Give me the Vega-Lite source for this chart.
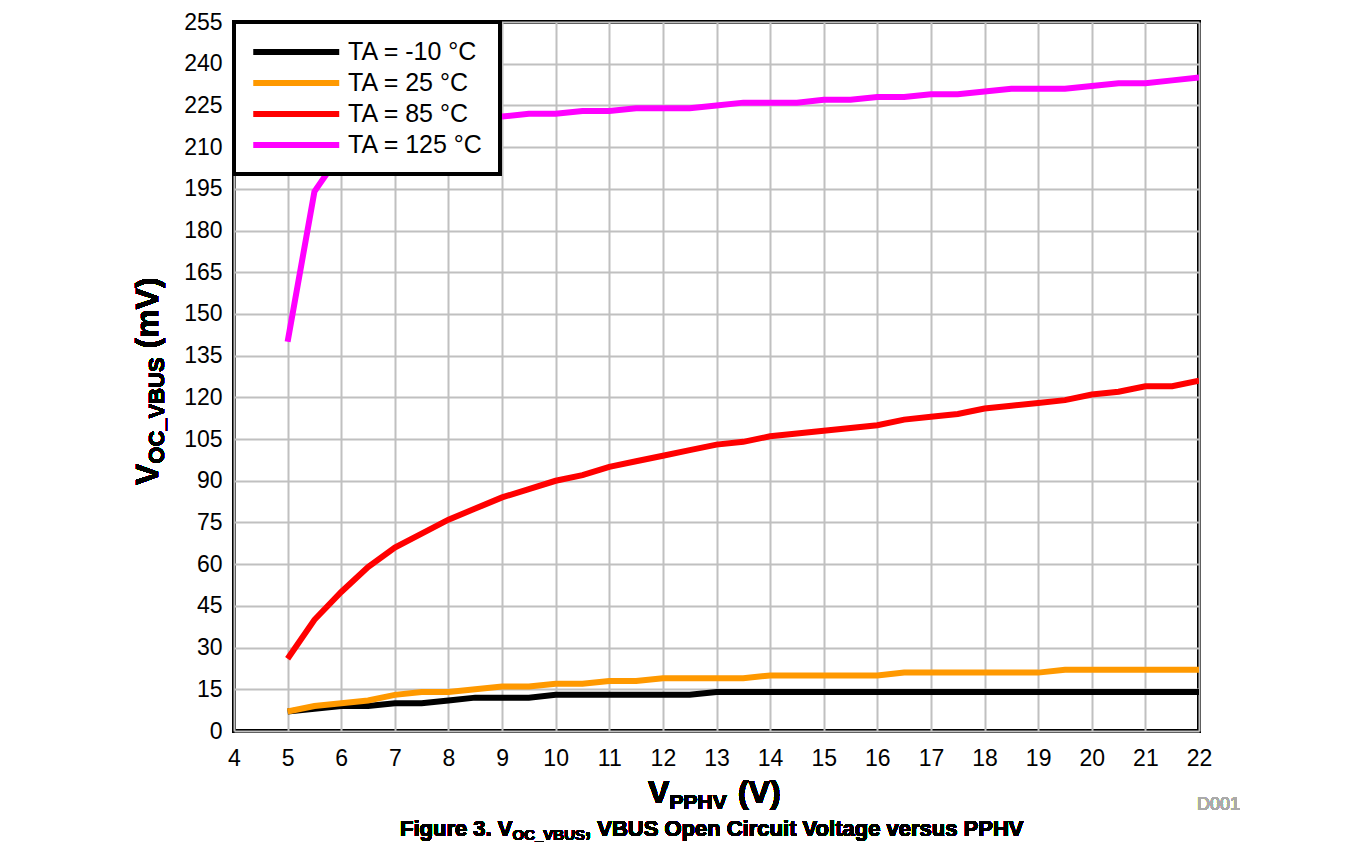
{
  "$schema": "https://vega.github.io/schema/vega-lite/v6.json",
  "width": 965,
  "height": 709,
  "autosize": {"type": "none"},
  "padding": {"left": 234, "top": 22, "right": 158, "bottom": 115},
  "background": "white",
  "config": {
    "font": "Liberation Sans",
    "view": {"stroke": "black", "strokeWidth": 4},
    "axis": {
      "labelFont": "Liberation Sans",
      "labelFontSize": 23,
      "labelColor": "black",
      "gridColor": "#c0c0c0",
      "gridWidth": 2,
      "gridOpacity": 1,
      "domain": false,
      "ticks": false,
      "title": null
    },
    "legend": {
      "orient": "top-left",
      "offset": 0,
      "padding": 16,
      "strokeColor": "black",
      "strokeWidth": 4,
      "fillColor": "white",
      "labelFont": "Liberation Sans",
      "labelFontSize": 25,
      "labelColor": "black",
      "labelLimit": 400,
      "symbolType": "M-1,0H7",
      "symbolStrokeWidth": 6,
      "symbolSize": 462,
      "labelOffset": 70,
      "rowPadding": 4
    }
  },
  "data": {
    "values": [
      {"v":5,"s":"TA = -10 °C","mv":7},{"v":5.5,"s":"TA = -10 °C","mv":8},{"v":6,"s":"TA = -10 °C","mv":9},{"v":6.5,"s":"TA = -10 °C","mv":9},{"v":7,"s":"TA = -10 °C","mv":10},{"v":7.5,"s":"TA = -10 °C","mv":10},{"v":8,"s":"TA = -10 °C","mv":11},{"v":8.5,"s":"TA = -10 °C","mv":12},{"v":9,"s":"TA = -10 °C","mv":12},{"v":9.5,"s":"TA = -10 °C","mv":12},
      {"v":10,"s":"TA = -10 °C","mv":13},{"v":10.5,"s":"TA = -10 °C","mv":13},{"v":11,"s":"TA = -10 °C","mv":13},{"v":11.5,"s":"TA = -10 °C","mv":13},{"v":12,"s":"TA = -10 °C","mv":13},{"v":12.5,"s":"TA = -10 °C","mv":13},{"v":13,"s":"TA = -10 °C","mv":14},{"v":13.5,"s":"TA = -10 °C","mv":14},{"v":14,"s":"TA = -10 °C","mv":14},{"v":14.5,"s":"TA = -10 °C","mv":14},
      {"v":15,"s":"TA = -10 °C","mv":14},{"v":15.5,"s":"TA = -10 °C","mv":14},{"v":16,"s":"TA = -10 °C","mv":14},{"v":16.5,"s":"TA = -10 °C","mv":14},{"v":17,"s":"TA = -10 °C","mv":14},{"v":17.5,"s":"TA = -10 °C","mv":14},{"v":18,"s":"TA = -10 °C","mv":14},{"v":18.5,"s":"TA = -10 °C","mv":14},{"v":19,"s":"TA = -10 °C","mv":14},{"v":19.5,"s":"TA = -10 °C","mv":14},
      {"v":20,"s":"TA = -10 °C","mv":14},{"v":20.5,"s":"TA = -10 °C","mv":14},{"v":21,"s":"TA = -10 °C","mv":14},{"v":21.5,"s":"TA = -10 °C","mv":14},{"v":22,"s":"TA = -10 °C","mv":14},

      {"v":5,"s":"TA = 25 °C","mv":7},{"v":5.5,"s":"TA = 25 °C","mv":9},{"v":6,"s":"TA = 25 °C","mv":10},{"v":6.5,"s":"TA = 25 °C","mv":11},{"v":7,"s":"TA = 25 °C","mv":13},{"v":7.5,"s":"TA = 25 °C","mv":14},{"v":8,"s":"TA = 25 °C","mv":14},{"v":8.5,"s":"TA = 25 °C","mv":15},{"v":9,"s":"TA = 25 °C","mv":16},{"v":9.5,"s":"TA = 25 °C","mv":16},
      {"v":10,"s":"TA = 25 °C","mv":17},{"v":10.5,"s":"TA = 25 °C","mv":17},{"v":11,"s":"TA = 25 °C","mv":18},{"v":11.5,"s":"TA = 25 °C","mv":18},{"v":12,"s":"TA = 25 °C","mv":19},{"v":12.5,"s":"TA = 25 °C","mv":19},{"v":13,"s":"TA = 25 °C","mv":19},{"v":13.5,"s":"TA = 25 °C","mv":19},{"v":14,"s":"TA = 25 °C","mv":20},{"v":14.5,"s":"TA = 25 °C","mv":20},
      {"v":15,"s":"TA = 25 °C","mv":20},{"v":15.5,"s":"TA = 25 °C","mv":20},{"v":16,"s":"TA = 25 °C","mv":20},{"v":16.5,"s":"TA = 25 °C","mv":21},{"v":17,"s":"TA = 25 °C","mv":21},{"v":17.5,"s":"TA = 25 °C","mv":21},{"v":18,"s":"TA = 25 °C","mv":21},{"v":18.5,"s":"TA = 25 °C","mv":21},{"v":19,"s":"TA = 25 °C","mv":21},{"v":19.5,"s":"TA = 25 °C","mv":22},
      {"v":20,"s":"TA = 25 °C","mv":22},{"v":20.5,"s":"TA = 25 °C","mv":22},{"v":21,"s":"TA = 25 °C","mv":22},{"v":21.5,"s":"TA = 25 °C","mv":22},{"v":22,"s":"TA = 25 °C","mv":22},

      {"v":5,"s":"TA = 85 °C","mv":26},{"v":5.5,"s":"TA = 85 °C","mv":40},{"v":6,"s":"TA = 85 °C","mv":50},{"v":6.5,"s":"TA = 85 °C","mv":59},{"v":7,"s":"TA = 85 °C","mv":66},{"v":7.5,"s":"TA = 85 °C","mv":71},{"v":8,"s":"TA = 85 °C","mv":76},{"v":8.5,"s":"TA = 85 °C","mv":80},{"v":9,"s":"TA = 85 °C","mv":84},{"v":9.5,"s":"TA = 85 °C","mv":87},
      {"v":10,"s":"TA = 85 °C","mv":90},{"v":10.5,"s":"TA = 85 °C","mv":92},{"v":11,"s":"TA = 85 °C","mv":95},{"v":11.5,"s":"TA = 85 °C","mv":97},{"v":12,"s":"TA = 85 °C","mv":99},{"v":12.5,"s":"TA = 85 °C","mv":101},{"v":13,"s":"TA = 85 °C","mv":103},{"v":13.5,"s":"TA = 85 °C","mv":104},{"v":14,"s":"TA = 85 °C","mv":106},{"v":14.5,"s":"TA = 85 °C","mv":107},
      {"v":15,"s":"TA = 85 °C","mv":108},{"v":15.5,"s":"TA = 85 °C","mv":109},{"v":16,"s":"TA = 85 °C","mv":110},{"v":16.5,"s":"TA = 85 °C","mv":112},{"v":17,"s":"TA = 85 °C","mv":113},{"v":17.5,"s":"TA = 85 °C","mv":114},{"v":18,"s":"TA = 85 °C","mv":116},{"v":18.5,"s":"TA = 85 °C","mv":117},{"v":19,"s":"TA = 85 °C","mv":118},{"v":19.5,"s":"TA = 85 °C","mv":119},
      {"v":20,"s":"TA = 85 °C","mv":121},{"v":20.5,"s":"TA = 85 °C","mv":122},{"v":21,"s":"TA = 85 °C","mv":124},{"v":21.5,"s":"TA = 85 °C","mv":124},{"v":22,"s":"TA = 85 °C","mv":126},

      {"v":5,"s":"TA = 125 °C","mv":140},{"v":5.5,"s":"TA = 125 °C","mv":194},{"v":6,"s":"TA = 125 °C","mv":208},{"v":6.5,"s":"TA = 125 °C","mv":213},{"v":7,"s":"TA = 125 °C","mv":216},{"v":7.5,"s":"TA = 125 °C","mv":218},{"v":8,"s":"TA = 125 °C","mv":219},{"v":8.5,"s":"TA = 125 °C","mv":220},{"v":9,"s":"TA = 125 °C","mv":221},{"v":9.5,"s":"TA = 125 °C","mv":222},
      {"v":10,"s":"TA = 125 °C","mv":222},{"v":10.5,"s":"TA = 125 °C","mv":223},{"v":11,"s":"TA = 125 °C","mv":223},{"v":11.5,"s":"TA = 125 °C","mv":224},{"v":12,"s":"TA = 125 °C","mv":224},{"v":12.5,"s":"TA = 125 °C","mv":224},{"v":13,"s":"TA = 125 °C","mv":225},{"v":13.5,"s":"TA = 125 °C","mv":226},{"v":14,"s":"TA = 125 °C","mv":226},{"v":14.5,"s":"TA = 125 °C","mv":226},
      {"v":15,"s":"TA = 125 °C","mv":227},{"v":15.5,"s":"TA = 125 °C","mv":227},{"v":16,"s":"TA = 125 °C","mv":228},{"v":16.5,"s":"TA = 125 °C","mv":228},{"v":17,"s":"TA = 125 °C","mv":229},{"v":17.5,"s":"TA = 125 °C","mv":229},{"v":18,"s":"TA = 125 °C","mv":230},{"v":18.5,"s":"TA = 125 °C","mv":231},{"v":19,"s":"TA = 125 °C","mv":231},{"v":19.5,"s":"TA = 125 °C","mv":231},
      {"v":20,"s":"TA = 125 °C","mv":232},{"v":20.5,"s":"TA = 125 °C","mv":233},{"v":21,"s":"TA = 125 °C","mv":233},{"v":21.5,"s":"TA = 125 °C","mv":234},{"v":22,"s":"TA = 125 °C","mv":235}
    ]
  },
  "layer": [
    {
      "mark": {"type": "line", "strokeWidth": 6, "clip": true},
      "encoding": {
        "x": {"field": "v", "type": "quantitative", "scale": {"domain": [4, 22], "nice": false, "zero": false},
              "axis": {"values": [4,5,6,7,8,9,10,11,12,13,14,15,16,17,18,19,20,21,22], "labelFlush": false, "labelOverlap": false, "labelPadding": 16, "grid": true}},
        "y": {"field": "mv", "type": "quantitative", "scale": {"domain": [0, 255], "nice": false},
              "axis": {"values": [0,15,30,45,60,75,90,105,120,135,150,165,180,195,210,225,240,255], "labelOverlap": false, "labelPadding": 12, "grid": true}},
        "color": {"field": "s", "type": "nominal",
                  "scale": {"domain": ["TA = -10 °C", "TA = 25 °C", "TA = 85 °C", "TA = 125 °C"], "range": ["#000000", "#FF9900", "#FF0000", "#FF00FF"]},
                  "legend": {"title": null}}
      }
    },
    {
      "mark": {"type": "text", "text": "V", "fontSize": 32, "fontWeight": "bold", "align": "left", "baseline": "alphabetic", "color": "black"},
      "encoding": {"x": {"datum": 11.722, "type": "quantitative", "scale": {"domain": [4, 22], "nice": false, "zero": false}},
                   "y": {"datum": -25.9, "type": "quantitative", "scale": {"domain": [0, 255], "nice": false}}}
    },
    {
      "mark": {"type": "text", "text": "PPHV", "fontSize": 21, "fontWeight": "bold", "align": "left", "baseline": "alphabetic", "color": "black"},
      "encoding": {"x": {"datum": 12.123, "type": "quantitative", "scale": {"domain": [4, 22], "nice": false, "zero": false}},
                   "y": {"datum": -28.05, "type": "quantitative", "scale": {"domain": [0, 255], "nice": false}}}
    },
    {
      "mark": {"type": "text", "text": "(V)", "fontSize": 32, "fontWeight": "bold", "align": "left", "baseline": "alphabetic", "color": "black"},
      "encoding": {"x": {"datum": 13.4, "type": "quantitative", "scale": {"domain": [4, 22], "nice": false, "zero": false}},
                   "y": {"datum": -25.9, "type": "quantitative", "scale": {"domain": [0, 255], "nice": false}}}
    },
    {
      "mark": {"type": "text", "text": "V", "fontSize": 32, "fontWeight": "bold", "align": "left", "baseline": "alphabetic", "angle": 270, "color": "black"},
      "encoding": {"x": {"datum": 2.582, "type": "quantitative", "scale": {"domain": [4, 22], "nice": false, "zero": false}},
                   "y": {"datum": 88.48, "type": "quantitative", "scale": {"domain": [0, 255], "nice": false}}}
    },
    {
      "mark": {"type": "text", "text": "OC_VBUS", "fontSize": 22, "fontWeight": "bold", "align": "left", "baseline": "alphabetic", "angle": 270, "color": "black"},
      "encoding": {"x": {"datum": 2.694, "type": "quantitative", "scale": {"domain": [4, 22], "nice": false, "zero": false}},
                   "y": {"datum": 96.14, "type": "quantitative", "scale": {"domain": [0, 255], "nice": false}}}
    },
    {
      "mark": {"type": "text", "text": "(mV)", "fontSize": 32, "fontWeight": "bold", "align": "left", "baseline": "alphabetic", "angle": 270, "color": "black"},
      "encoding": {"x": {"datum": 2.582, "type": "quantitative", "scale": {"domain": [4, 22], "nice": false, "zero": false}},
                   "y": {"datum": 137.57, "type": "quantitative", "scale": {"domain": [0, 255], "nice": false}}}
    },
    {
      "mark": {"type": "text", "text": "Figure 3. V", "fontSize": 22, "fontWeight": "bold", "align": "left", "baseline": "alphabetic", "color": "black"},
      "encoding": {"x": {"datum": 7.096, "type": "quantitative", "scale": {"domain": [4, 22], "nice": false, "zero": false}},
                   "y": {"datum": -37.76, "type": "quantitative", "scale": {"domain": [0, 255], "nice": false}}}
    },
    {
      "mark": {"type": "text", "text": "OC_VBUS", "fontSize": 15, "fontWeight": "bold", "align": "left", "baseline": "alphabetic", "color": "black"},
      "encoding": {"x": {"datum": 9.195, "type": "quantitative", "scale": {"domain": [4, 22], "nice": false, "zero": false}},
                   "y": {"datum": -39.2, "type": "quantitative", "scale": {"domain": [0, 255], "nice": false}}}
    },
    {
      "mark": {"type": "text", "text": ", VBUS Open Circuit Voltage versus PPHV", "fontSize": 22, "fontWeight": "bold", "align": "left", "baseline": "alphabetic", "color": "black"},
      "encoding": {"x": {"datum": 10.547, "type": "quantitative", "scale": {"domain": [4, 22], "nice": false, "zero": false}},
                   "y": {"datum": -37.76, "type": "quantitative", "scale": {"domain": [0, 255], "nice": false}}}
    },
    {
      "mark": {"type": "text", "text": "D001", "fontSize": 18, "fontWeight": "normal", "align": "right", "baseline": "alphabetic", "color": "#aaaaaa"},
      "encoding": {"x": {"datum": 22.765, "type": "quantitative", "scale": {"domain": [4, 22], "nice": false, "zero": false}},
                   "y": {"datum": -28.4, "type": "quantitative", "scale": {"domain": [0, 255], "nice": false}}}
    }
  ]
}
